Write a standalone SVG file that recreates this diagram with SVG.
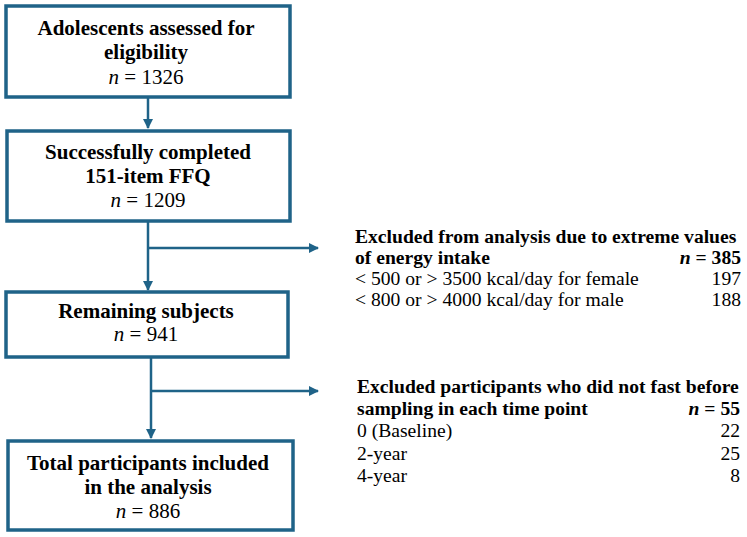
<svg xmlns="http://www.w3.org/2000/svg" width="747" height="537" viewBox="0 0 747 537">
<style>
.box{fill:#fff;stroke:#1F6388;stroke-width:3.5}
.c{stroke:#1F6388;stroke-width:2.5;fill:none}
text{font-family:'Liberation Serif','Times New Roman',serif;font-size:19.6px;fill:#000}
.bx{font-size:21px}
.b{font-weight:bold}
.m{text-anchor:middle}
.e{text-anchor:end}
</style>
<defs>
<marker id="ah" viewBox="0 0 10 10" refX="9" refY="5" markerWidth="4" markerHeight="4" orient="auto" markerUnits="strokeWidth">
<path d="M0,0 L10,5 L0,10 z" fill="#1F6388"/>
</marker>
</defs>
<g id="connectors">
<path class="c" d="M148,97 V128" marker-end="url(#ah)"/>
<path class="c" d="M148,222 V290" marker-end="url(#ah)"/>
<path class="c" d="M148,248 H318" marker-end="url(#ah)"/>
<path class="c" d="M151,357 V438" marker-end="url(#ah)"/>
<path class="c" d="M151,391 H318" marker-end="url(#ah)"/>
</g>
<g id="n1">
<rect class="box" x="6" y="6" width="284" height="91"/>
<text class="bx b m" x="146" y="35">Adolescents assessed for</text>
<text class="bx b m" x="146" y="59">eligibility</text>
<text class="bx m" x="146" y="84"><tspan font-style="italic">n</tspan> = 1326</text>
</g>
<g id="n2">
<rect class="box" x="7" y="131" width="283" height="90"/>
<text class="bx b m" x="148" y="159">Successfully completed</text>
<text class="bx b m" x="148" y="183">151-item FFQ</text>
<text class="bx m" x="148" y="207"><tspan font-style="italic">n</tspan> = 1209</text>
</g>
<g id="n3">
<rect class="box" x="6" y="292" width="282" height="65"/>
<text class="bx b m" x="146" y="318">Remaining subjects</text>
<text class="bx m" x="146" y="341"><tspan font-style="italic">n</tspan> = 941</text>
</g>
<g id="n4">
<rect class="box" x="8" y="441" width="285" height="89"/>
<text class="bx b m" x="148" y="470">Total participants included</text>
<text class="bx b m" x="148" y="494">in the analysis</text>
<text class="bx m" x="148" y="518"><tspan font-style="italic">n</tspan> = 886</text>
</g>
<g id="ex1">
<text class="b" x="355" y="243">Excluded from analysis due to extreme values</text>
<text class="b" x="355" y="264">of energy intake</text>
<text class="b e" x="741" y="264"><tspan font-style="italic">n</tspan> = 385</text>
<text x="355" y="285">&lt; 500 or &gt; 3500 kcal/day for female</text>
<text class="e" x="741" y="285">197</text>
<text x="355" y="306">&lt; 800 or &gt; 4000 kcal/day for male</text>
<text class="e" x="741" y="306">188</text>
</g>
<g id="ex2">
<text class="b" x="357" y="393">Excluded participants who did not fast before</text>
<text class="b" x="357" y="415">sampling in each time point</text>
<text class="b e" x="740" y="415"><tspan font-style="italic">n</tspan> = 55</text>
<text x="357" y="437">0 (Baseline)</text>
<text class="e" x="740" y="437">22</text>
<text x="357" y="460">2-year</text>
<text class="e" x="740" y="460">25</text>
<text x="357" y="482">4-year</text>
<text class="e" x="740" y="482">8</text>
</g>
</svg>
